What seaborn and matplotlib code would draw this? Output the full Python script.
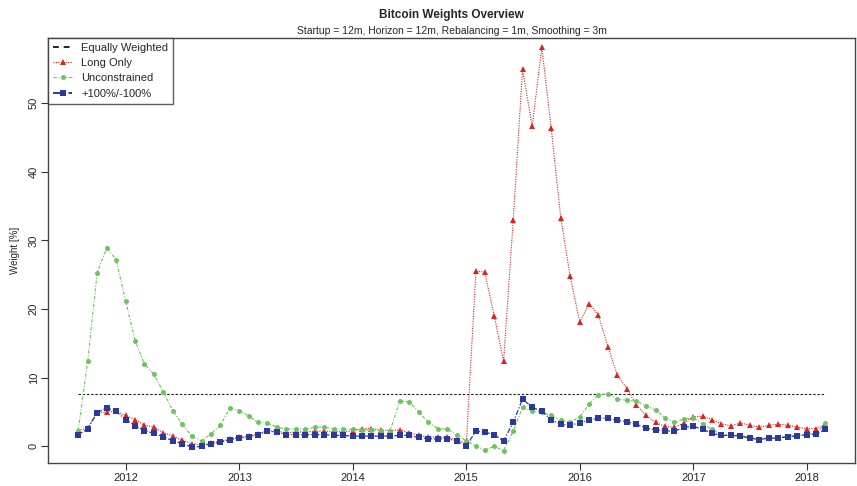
import numpy as np
import pandas as pd
import matplotlib
matplotlib.use("Agg")
import matplotlib.pyplot as plt
from matplotlib.lines import Line2D
import seaborn as sns

# Monthly Bitcoin weights (%) for the three optimisation set-ups
dates = pd.date_range("2011-08-01", periods=80, freq="MS")

long_only = [
    2.3, 2.7, 4.9, 5.0, 5.1, 4.5, 3.9, 3.1, 2.8, 2.0,
    1.5, 0.9, 0.4, 0.2, 0.5, 0.7, 1.1, 1.3, 1.5, 1.8,
    2.3, 2.2, 2.0, 2.1, 2.1, 2.2, 2.2, 2.2, 2.1, 2.3,
    2.6, 2.6, 2.4, 2.3, 2.4, 2.0, 1.6, 1.4, 1.3, 1.3,
    1.0, 0.4, 25.5, 25.4, 19.0, 12.4, 32.9, 54.9, 46.6, 58.1,
    46.4, 33.3, 24.8, 18.1, 20.8, 19.1, 14.5, 10.4, 8.4, 6.1,
    4.5, 3.5, 2.9, 2.8, 3.4, 4.3, 4.4, 3.9, 3.3, 3.0,
    3.4, 3.1, 2.8, 3.1, 3.2, 3.1, 2.8, 2.6, 2.6, 3.3,
]

unconstrained = [
    2.3, 12.5, 25.3, 28.9, 27.2, 21.1, 15.3, 12.0, 10.5, 7.9,
    5.2, 3.2, 1.5, 0.8, 1.8, 3.1, 5.6, 5.2, 4.4, 3.5,
    3.4, 2.8, 2.5, 2.6, 2.5, 2.8, 2.8, 2.6, 2.5, 2.5,
    2.4, 2.4, 2.3, 2.3, 6.6, 6.5, 5.0, 3.5, 2.6, 2.5,
    1.7, 0.8, 0.0, -0.5, 0.0, -0.6, 2.2, 5.7, 5.1, 5.0,
    4.5, 3.8, 3.5, 4.3, 6.2, 7.5, 7.7, 6.9, 6.7, 6.6,
    5.9, 5.3, 4.2, 3.5, 4.0, 4.2, 3.2, 2.5, 1.7, 1.7,
    1.6, 1.3, 1.1, 1.3, 1.3, 1.5, 1.6, 1.8, 1.9, 3.4,
]

plus_minus_100 = [
    1.7, 2.6, 4.9, 5.6, 5.1, 3.9, 3.0, 2.3, 1.9, 1.4,
    0.8, 0.4, -0.1, 0.0, 0.4, 0.6, 1.0, 1.2, 1.4, 1.7,
    2.2, 2.1, 1.7, 1.7, 1.7, 1.7, 1.7, 1.6, 1.6, 1.5,
    1.5, 1.5, 1.5, 1.5, 1.6, 1.6, 1.3, 1.1, 1.1, 1.1,
    0.8, 0.1, 2.2, 2.1, 1.7, 0.8, 3.5, 6.9, 5.7, 5.1,
    3.9, 3.2, 3.1, 3.4, 3.9, 4.1, 4.1, 3.8, 3.6, 3.2,
    2.7, 2.4, 2.3, 2.2, 2.8, 2.9, 2.5, 1.9, 1.6, 1.6,
    1.5, 1.2, 1.0, 1.2, 1.2, 1.4, 1.5, 1.7, 1.8, 2.5,
]

# 13 assets in the universe -> equal weight
equal_weight = [100.0 / 13] * len(dates)

series_names = ["Equally Weighted", "Long Only", "Unconstrained", "+100%/-100%"]
year_ticks = list(range(2012, 2019))

sns.set_style("ticks")
plt.rcParams["font.family"] = ["Liberation Sans", "DejaVu Sans"]

RED = "#E3211C"
GREEN = "#6CC45E"
BLUE = "#2A399E"

fig = plt.figure(figsize=(8.57, 4.86), dpi=100)
ax = fig.add_axes([0.0564, 0.0467, 0.9413, 0.8757])

sns.lineplot(x=dates, y=equal_weight, ax=ax, color="#222222",
             linewidth=0.8, dashes=False, linestyle=(0, (2.2, 1.6)))
sns.lineplot(x=dates, y=long_only, ax=ax, color=RED, linewidth=0.8,
             linestyle=(0, (1, 1.2)), marker="^", markersize=5.0,
             markeredgewidth=0, markerfacecolor=RED)
sns.lineplot(x=dates, y=unconstrained, ax=ax, color=GREEN, linewidth=0.8,
             linestyle=(0, (3, 1.5, 1, 1.5)), marker="o", markersize=3.6,
             markeredgewidth=0, markerfacecolor=GREEN)
sns.lineplot(x=dates, y=plus_minus_100, ax=ax, color=BLUE, linewidth=0.9,
             linestyle=(0, (4, 1.5, 1, 1.5)), marker="s", markersize=4.2,
             markeredgewidth=0, markerfacecolor=BLUE)

pad = pd.Timedelta(days=96)
ax.set_xlim(dates[0] - pad, dates[-1] + pad)
ax.set_ylim(-2.46, 59.5)

ax.set_xticks([pd.Timestamp(f"{y}-01-01") for y in year_ticks])
ax.set_xticklabels([str(y) for y in year_ticks], fontsize=8)
ax.set_yticks([0, 10, 20, 30, 40, 50])
ax.set_yticklabels(["0", "10", "20", "30", "40", "50"], fontsize=8,
                   rotation=90, va="center")
ax.tick_params(axis="both", direction="out", length=5, width=0.8,
               color="#333333", pad=2)
for s in ax.spines.values():
    s.set_visible(True)
    s.set_color("#444444")
    s.set_linewidth(1.0)

ax.set_xlabel("")
ax.set_ylabel("Weight [%]", fontsize=7, labelpad=6)

fig.text(0.527, 0.970, "Bitcoin Weights Overview", ha="center", va="center",
         fontsize=8.5, fontweight="bold")
fig.text(0.527, 0.937,
         "Startup = 12m, Horizon = 12m, Rebalancing = 1m, Smoothing = 3m",
         ha="center", va="center", fontsize=7.5)

handles = [
    Line2D([], [], color="#222222", linewidth=1.4, linestyle=(0, (3, 2.5))),
    Line2D([], [], color=RED, linewidth=0.8, linestyle=(0, (1, 1.2)),
           marker="^", markersize=5, markeredgewidth=0),
    Line2D([], [], color=GREEN, linewidth=0.8, linestyle=(0, (3, 1.5, 1, 1.5)),
           marker="o", markersize=3.6, markeredgewidth=0),
    Line2D([], [], color=BLUE, linewidth=1.4, linestyle=(0, (4, 1.5, 1, 1.5)),
           marker="s", markersize=4.2, markeredgewidth=0),
]
leg = ax.legend(handles, series_names, loc="upper left", fontsize=8,
                frameon=True, fancybox=False, borderaxespad=0,
                handlelength=1.7, handletextpad=0.8, labelspacing=0.48,
                borderpad=0.45)
leg.get_frame().set_edgecolor("#333333")
leg.get_frame().set_linewidth(1.0)

fig.savefig("out.png", dpi=100)
